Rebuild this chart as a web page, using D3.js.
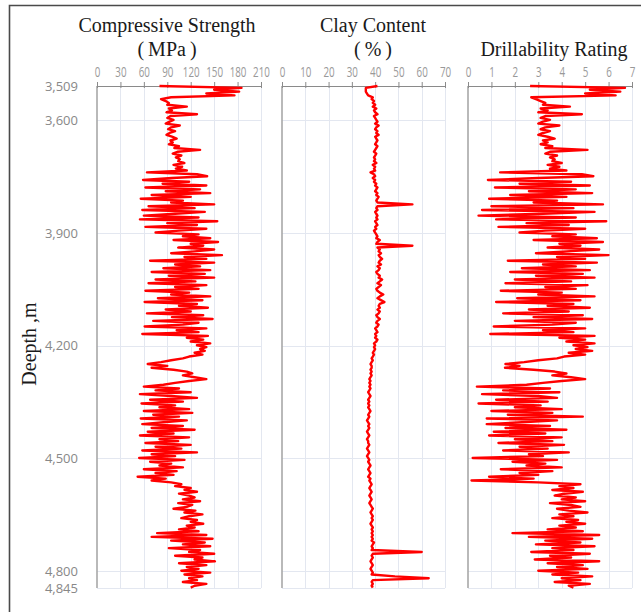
<!DOCTYPE html>
<html>
<head>
<meta charset="utf-8">
<script src="https://cdn.jsdelivr.net/npm/d3@7"></script>
<style>
  html, body { margin: 0; padding: 0; background: #fff; }
  svg { display: block; }
</style>
</head>
<body>
<svg id="chart" width="641" height="612"></svg>
<script>
// Well log: three tracks sharing one depth axis (metres).
const depthTicks = [3509, 3600, 3900, 4200, 4500, 4800, 4845];
const depthStart = 3509;   // first sample depth, m
const depthStep = 5;       // sampling interval, m

const strengthTicks = [0, 30, 60, 90, 120, 150, 180, 210];
const clayTicks = [0, 10, 20, 30, 40, 50, 60, 70];
const drillTicks = [0, 1, 2, 3, 4, 5, 6, 7];

// Compressive strength, MPa
const strength = [
  80, 185, 150, 182, 140, 176, 95, 82, 88, 92,
  90, 115, 92, 96, 89, 128, 94, 90, 98, 93,
  88, 106, 95, 91, 100, 93, 89, 96, 102, 94,
  97, 92, 105, 99, 132, 103, 97, 108, 101, 106,
  104, 112, 98, 109, 101, 115, 64, 128, 141, 96,
  59, 118, 84, 140, 62, 132, 88, 145, 70, 120,
  56, 110, 95, 150, 66, 125, 58, 138, 100, 60,
  130, 55, 154, 90, 128, 62, 140, 105, 75, 130,
  110, 145, 98, 155, 120, 136, 104, 150, 125, 95,
  160, 112, 140, 68, 150, 100, 132, 85, 145, 70,
  138, 92, 150, 75, 126, 66, 140, 100, 130, 62,
  118, 95, 145, 78, 135, 61, 128, 105, 142, 88,
  120, 64, 136, 96, 148, 72, 130, 110, 61, 140,
  102, 130, 58, 142, 115, 136, 120, 145, 128, 140,
  132, 138, 125, 135, 118, 110, 95, 82, 65, 90,
  70, 98, 115, 122, 110, 125, 140, 118, 100, 85,
  60, 105, 75, 120, 55, 95, 128, 68, 110, 57,
  100, 80, 118, 60, 122, 72, 105, 56, 115, 85,
  58, 110, 70, 125, 65, 98, 55, 118, 80, 104,
  62, 120, 75, 108, 58, 128, 70, 100, 54, 112,
  68, 95, 80, 110, 60, 102, 75, 98, 52, 88,
  70, 95, 108, 100, 120, 112, 128, 105, 118, 125,
  110, 132, 104, 122, 115, 98, 126, 112, 135, 118,
  108, 128, 120, 136, 115, 125, 105, 130, 77, 140,
  70, 148, 95, 138, 110, 145, 92, 132, 118, 150,
  100, 135, 125, 151, 105, 140, 115, 130, 108, 145,
  112, 135, 118, 128, 110, 140, 125, 120
];

// Clay content, %
const clay = [
  41, 36, 36, 36, 36.5, 37, 39, 38.5, 39.5, 39,
  40, 39, 40.5, 39.5, 40, 41, 39.5, 40, 40.5, 41,
  40, 41.5, 40.5, 40, 41, 40.5, 41.5, 40, 40.5, 41,
  40.5, 40, 41, 40.5, 40, 39.5, 40.5, 40, 39.5, 40,
  39.5, 40.5, 39, 40, 39.5, 40, 38, 39.5, 40, 39,
  40, 39.5, 40.5, 40, 41, 40.5, 40, 41, 40.5, 41.5,
  41, 40.5, 41, 56, 41, 40.5, 41, 40, 40.5, 41,
  40.5, 41, 40, 40.5, 41, 40, 40.5, 39.5, 40, 40.5,
  41, 40.5, 42, 41, 40.5, 56, 41, 42, 41.5, 42.5,
  41.5, 42, 43, 42, 41.5, 42.5, 41, 42, 41.5, 40.5,
  41, 42, 41.5, 43, 42, 41, 42.5, 41.5, 40.5, 41,
  42, 43.5, 42, 41, 42.5, 44, 42, 41.5, 42, 41,
  42, 41.5, 40.5, 41, 42, 41, 40.5, 41.5, 41, 40,
  40.5, 41, 40, 40.5, 40, 41, 40.5, 39.5, 40, 39.5,
  40, 39.5, 39, 39.5, 39, 38.5, 39, 38.5, 38, 38.5,
  38.5, 38, 38.5, 38, 38.5, 38, 37.5, 38, 37.5, 38,
  37.5, 38, 37.5, 37, 37.5, 38, 37.5, 37, 37.5, 37,
  37.5, 37, 37.5, 38, 37.5, 37, 37.5, 37, 36.5, 37,
  37.5, 37, 37.5, 37, 36.5, 37, 37.5, 37, 36.5, 37,
  37, 37.5, 37, 36.5, 37, 37.5, 37, 36.5, 37, 37.5,
  37, 37.5, 38, 37.5, 37, 37.5, 38, 37.5, 37, 38,
  37.5, 38, 38.5, 38, 37.5, 38, 38.5, 38, 37.5, 38,
  38.5, 38, 37.5, 38, 38.5, 39, 38.5, 38, 38.5, 39,
  38.5, 39, 38.5, 38, 38.5, 39, 38.5, 39, 38.5, 39,
  38.5, 39, 38.5, 39.5, 39, 38.5, 39, 38.5, 60, 39,
  38.5, 39, 38.5, 38, 38.5, 39, 38.5, 38, 38.5, 39,
  38.5, 48.5, 63, 39, 38.5, 39, 38.5, 39
];

// Drillability rating
const drill = [
  2.65, 6.7, 5.2, 6.5, 5.0, 6.3, 2.7, 2.9, 3.1, 3.3,
  3.2, 4.35, 3.1, 3.4, 3.0, 4.86, 3.3, 3.1, 3.5, 3.2,
  3.0, 3.9, 3.3, 3.1, 3.5, 3.2, 3.0, 3.4, 3.7, 3.2,
  3.4, 3.1, 3.6, 3.3, 5.1, 3.5, 3.3, 3.8, 3.5, 3.7,
  3.6, 4.0, 3.4, 3.9, 3.5, 4.2, 1.37, 4.86, 5.35, 3.0,
  0.85, 4.4, 2.2, 5.2, 1.15, 4.6, 2.6, 5.3, 1.8, 4.2,
  0.9, 3.8, 2.8, 5.76, 1.0, 4.5, 0.6, 5.4, 3.2, 0.45,
  4.6, 1.2, 5.9, 2.5, 4.3, 1.3, 5.0, 3.3, 2.2, 4.6,
  3.6, 5.5, 2.8, 5.76, 3.9, 4.8, 3.4, 5.6, 4.2, 2.9,
  6.0, 3.8, 5.0, 1.7, 5.5, 3.2, 4.6, 2.3, 5.2, 1.8,
  4.9, 2.9, 5.4, 2.0, 4.4, 1.6, 5.1, 3.3, 4.6, 1.4,
  4.0, 3.0, 5.4, 2.1, 4.8, 1.2, 4.5, 3.4, 5.2, 2.6,
  4.3, 1.5, 4.9, 2.8, 5.3, 2.0, 4.6, 3.6, 1.1, 5.0,
  3.2, 4.5, 0.95, 5.4, 3.9, 5.0, 4.2, 5.4, 4.5, 5.1,
  4.6, 5.3, 4.3, 5.0, 4.1, 3.8, 3.0, 2.4, 1.6, 2.2,
  1.58, 2.8, 3.7, 4.2, 3.6, 4.4, 5.0, 4.0, 3.2, 2.5,
  0.38, 3.5, 1.5, 3.9, 0.6, 3.0, 3.8, 1.2, 3.4, 0.45,
  3.1, 2.0, 4.0, 1.0, 3.6, 1.7, 4.9, 0.8, 3.8, 2.3,
  0.8, 3.5, 1.6, 4.2, 1.1, 3.3, 0.9, 4.0, 2.0, 3.6,
  1.3, 4.1, 2.2, 3.4, 1.5, 4.3, 2.6, 3.2, 0.2, 3.8,
  1.9, 3.3, 2.5, 4.0, 1.4, 3.6, 2.2, 3.0, 0.9, 2.8,
  0.15, 3.0, 4.8, 3.9, 4.5, 3.6, 4.9, 4.1, 3.7, 4.6,
  4.0, 5.0, 3.5, 4.4, 4.8, 3.8, 4.3, 5.1, 3.9, 4.5,
  3.6, 4.7, 4.2, 5.0, 3.9, 4.6, 3.4, 4.9, 1.9, 5.6,
  2.6, 5.3, 3.3, 4.8, 2.9, 5.4, 3.6, 4.5, 2.7, 5.2,
  3.5, 4.4, 2.85, 5.6, 3.4, 4.9, 3.8, 5.1, 3.0, 4.7,
  3.6, 5.3, 4.0, 4.8, 3.7, 5.2, 4.3, 4.5
];

const tracks = [
  { title: ["Compressive Strength", "(\u2009MPa\u2009)"], titleX: 167, values: strength, ticks: strengthTicks, left: 97, right: 261 },
  { title: ["Clay Content", "(\u2009%\u2009)"], titleX: 373, values: clay, ticks: clayTicks, left: 282, right: 445 },
  { title: [null, "Drillability Rating"], titleX: 554, values: drill, ticks: drillTicks, left: 468, right: 632 }
];

const svg = d3.select("#chart");
const serif = "'Liberation Serif', 'Times New Roman', serif";
const sans = "'Open Sans', 'Noto Sans', sans-serif";

const y = d3.scaleLinear().domain([3509, 4845]).range([86, 588]);
const depthAt = i => depthStart + i * depthStep;

// outer frame (top and left edges)
svg.append("path")
  .attr("d", "M9.5,612V5.5H641")
  .attr("fill", "none")
  .attr("stroke", "#4a4a4a")
  .attr("stroke-width", 1.6);

tracks.forEach(t => {
  const x = d3.scaleLinear()
    .domain([t.ticks[0], t.ticks[t.ticks.length - 1]])
    .range([t.left, t.right]);
  const g = svg.append("g");

  // grid
  g.selectAll("line.vgrid").data(t.ticks.slice(1)).join("line")
    .attr("x1", d => Math.round(x(d)) + 0.5).attr("x2", d => Math.round(x(d)) + 0.5)
    .attr("y1", y(3509)).attr("y2", y(4845))
    .attr("stroke", "#e3e7f0").attr("stroke-width", 1);
  g.selectAll("line.hgrid").data(depthTicks.slice(1)).join("line")
    .attr("x1", t.left).attr("x2", t.right)
    .attr("y1", d => Math.round(y(d)) + 0.5).attr("y2", d => Math.round(y(d)) + 0.5)
    .attr("stroke", "#e3e7f0").attr("stroke-width", 1);

  // left edge of the track
  g.append("line")
    .attr("x1", t.left).attr("x2", t.left)
    .attr("y1", y(3509)).attr("y2", y(4845))
    .attr("stroke", "#a8a8a8").attr("stroke-width", 1.6);

  // top value axis
  const ax = g.append("g")
    .attr("transform", `translate(0,${y(3509)})`)
    .call(d3.axisTop(x).tickValues(t.ticks).tickFormat(d3.format("d"))
      .tickSize(4).tickPadding(5).tickSizeOuter(0));
  ax.select(".domain").attr("stroke", "#8a8a8a").attr("stroke-width", 1.2);
  ax.selectAll(".tick line").attr("stroke", "#8a8a8a").attr("y2", -4).attr("y1", 2);
  ax.selectAll(".tick text")
    .attr("fill", "#999")
    .attr("font-family", sans)
    .attr("font-size", 14)
    .attr("transform", "scale(0.7,1)");

  // curve
  const line = d3.line()
    .x(v => x(v))
    .y((v, i) => y(depthAt(i)));
  g.append("path")
    .datum(t.values)
    .attr("d", line)
    .attr("fill", "none")
    .attr("stroke", "#ff0000")
    .attr("stroke-width", 2.4)
    .attr("stroke-linejoin", "round");

  // title
  if (t.title[0]) {
    svg.append("text")
      .attr("x", t.titleX).attr("y", 32)
      .attr("text-anchor", "middle")
      .attr("font-family", serif).attr("font-size", 20).attr("fill", "#1a1a1a")
      .text(t.title[0]);
  }
  svg.append("text")
    .attr("x", t.titleX).attr("y", 56)
    .attr("text-anchor", "middle")
    .attr("font-family", serif).attr("font-size", 20).attr("fill", "#1a1a1a")
    .text(t.title[1]);
});

// depth axis labels
const dAxis = svg.append("g")
  .attr("transform", "translate(97,0)")
  .call(d3.axisLeft(y).tickValues(depthTicks).tickFormat(d3.format(",")).tickSize(0).tickPadding(19));
dAxis.select(".domain").remove();
dAxis.selectAll(".tick text")
  .attr("fill", "#888")
  .attr("font-family", sans)
  .attr("font-size", 13);

// depth title
svg.append("text")
  .attr("transform", "translate(36,344) rotate(-90)")
  .attr("text-anchor", "middle")
  .attr("font-family", serif).attr("font-size", 20).attr("fill", "#1a1a1a")
  .text("Deepth ,m");
</script>
</body>
</html>
